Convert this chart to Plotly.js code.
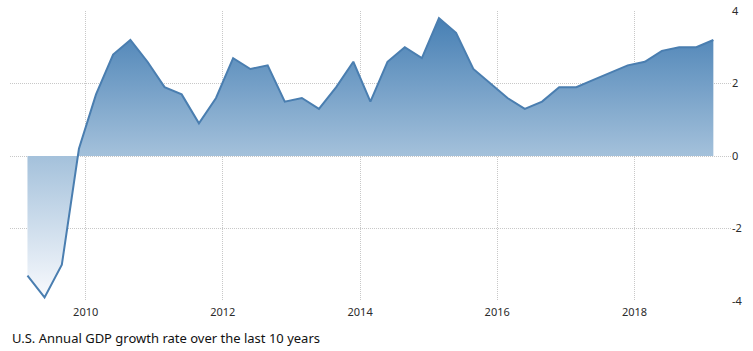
<!DOCTYPE html>
<html>
<head>
<meta charset="utf-8">
<script src="https://cdn.plot.ly/plotly-3.0.1.min.js"></script>
<style>
  html, body { margin: 0; padding: 0; background: #fff; }
  #chart { width: 753px; height: 351px; }
</style>
</head>
<body>
<div id="chart"></div>
<script>
// Quarterly observations, 2009 Q1 .. 2019 Q1
const quarterDates = [
  '2009-02-25','2009-05-27','2009-08-27','2009-11-26',
  '2010-02-25','2010-05-27','2010-08-27','2010-11-26',
  '2011-02-25','2011-05-27','2011-08-27','2011-11-26',
  '2012-02-25','2012-05-27','2012-08-27','2012-11-26',
  '2013-02-25','2013-05-27','2013-08-27','2013-11-26',
  '2014-02-25','2014-05-27','2014-08-27','2014-11-26',
  '2015-02-25','2015-05-27','2015-08-27','2015-11-26',
  '2016-02-25','2016-05-27','2016-08-27','2016-11-26',
  '2017-02-25','2017-05-27','2017-08-27','2017-11-26',
  '2018-02-25','2018-05-27','2018-08-27','2018-11-26',
  '2019-02-25'
];
const gdpGrowth = [
  -3.3, -3.9, -3.0, 0.2,
  1.7, 2.8, 3.2, 2.6,
  1.9, 1.7, 0.9, 1.6,
  2.7, 2.4, 2.5, 1.5,
  1.6, 1.3, 1.9, 2.6,
  1.5, 2.6, 3.0, 2.7,
  3.8, 3.4, 2.4, 2.0,
  1.6, 1.3, 1.5, 1.9,
  1.9, 2.1, 2.3, 2.5,
  2.6, 2.9, 3.0, 3.0,
  3.2
];
const yTickValues = [-4, -2, 0, 2, 4];
const yTickLabels = ['-4', '-2', '0', '2', '4'];
const xTickValues = ['2010-01-01', '2012-01-01', '2014-01-01', '2016-01-01', '2018-01-01'];
const xTickLabels = ['2010', '2012', '2014', '2016', '2018'];
const captionText = 'U.S. Annual GDP growth rate over the last 10 years';

const trace = {
  x: quarterDates,
  y: gdpGrowth,
  type: 'scatter',
  mode: 'lines',
  line: { color: 'rgb(74,126,176)', width: 2 },
  fill: 'tozeroy',
  fillgradient: {
    type: 'vertical',
    start: -4,
    stop: 4,
    colorscale: [
      [0, 'rgb(250,251,254)'],
      [0.5, 'rgb(164,193,219)'],
      [1, 'rgb(66,124,178)']
    ]
  },
  hoverinfo: 'x+y'
};

const layout = {
  width: 753,
  height: 351,
  margin: { l: 10, r: 22, t: 11, b: 50 },
  paper_bgcolor: '#ffffff',
  plot_bgcolor: '#ffffff',
  showlegend: false,
  font: { family: 'Noto Sans, sans-serif', size: 11, color: '#333' },
  xaxis: {
    type: 'date',
    range: ['2008-11-24', '2019-05-30'],
    tickvals: xTickValues,
    ticktext: xTickLabels,
    showgrid: true,
    gridcolor: '#c8c8c8',
    griddash: '1px,1px',
    gridwidth: 1,
    zeroline: false,
    showline: false,
    ticks: '',
    ticklabelstandoff: 3,
    tickfont: { family: 'Noto Sans, sans-serif', size: 11, color: '#2b2b2b' }
  },
  yaxis: {
    side: 'right',
    range: [-4, 4],
    tickvals: yTickValues,
    ticktext: yTickLabels,
    showgrid: true,
    gridcolor: '#c8c8c8',
    griddash: '1px,1px',
    gridwidth: 1,
    zeroline: false,
    showline: false,
    ticks: '',
    tickfont: { family: 'Noto Sans, sans-serif', size: 11, color: '#2b2b2b' }
  },
  annotations: [{
    text: captionText,
    xref: 'paper', yref: 'paper',
    x: 0, y: -0.1276,
    xanchor: 'left', yanchor: 'middle',
    showarrow: false,
    font: { family: 'Noto Sans, sans-serif', size: 13, color: '#111' }
  }]
};

Plotly.newPlot('chart', [trace], layout, { displayModeBar: false, staticPlot: true });
</script>
</body>
</html>
